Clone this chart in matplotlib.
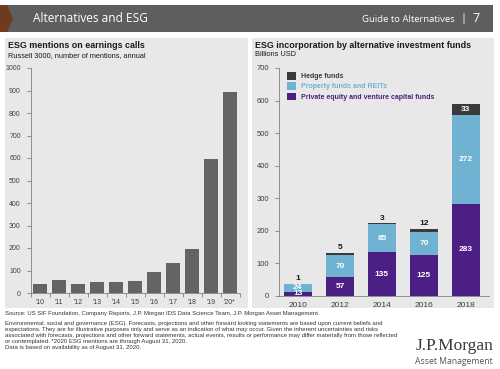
import matplotlib
matplotlib.use("Agg")
import matplotlib.pyplot as plt
from matplotlib.patches import Rectangle, Polygon
import numpy as np

plt.rcParams['font.family'] = ['Liberation Sans', 'DejaVu Sans']

# linker grafiek: ESG vermeldingen
jaren_links = ["'10", "'11", "'12", "'13", "'14", "'15", "'16", "'17", "'18", "'19", "'20*"]
vermeldingen = [41, 59, 40, 50, 47, 52, 95, 134, 196, 595, 895]

# rechter grafiek: ESG bij alternatieve fondsen
jaren_rechts = ["2010", "2012", "2014", "2016", "2018"]
private_equity = [13, 57, 135, 125, 283]
property_reits = [24, 70, 85, 70, 272]
hedge_funds = [1, 5, 3, 12, 33]

W, H = 500, 369
fig = plt.figure(figsize=(5, 3.69), dpi=100)
fig.patch.set_facecolor("white")


def px(x, y):
    return x / W, 1 - y / H


# kopbalk
fig.patches.append(Rectangle(px(0, 32), 493 / W, 27 / H, transform=fig.transFigure,
                             facecolor="#5e5e5e", edgecolor="none", zorder=-2))
fig.patches.append(Polygon([px(0, 5), px(7, 5), px(13, 18.5), px(7, 32), px(0, 32)],
                           closed=True, transform=fig.transFigure,
                           facecolor="#6e3b1f", edgecolor="none", zorder=-1))
fig.text(*px(33, 19), "Alternatives and ESG", color="white", fontsize=8.6,
         family="Open Sans", va="center", ha="left")
fig.text(*px(455, 20), "Guide to Alternatives", color="white", fontsize=6.8,
         family="Open Sans", va="center", ha="right")
fig.text(*px(463, 19), "|", color="white", fontsize=8, family="Open Sans", va="center", ha="center")
fig.text(*px(476, 19), "7", color="white", fontsize=9, family="Open Sans",
         va="center", ha="center")

# panelen
paneel_kleur = "#e8e8e8"
fig.patches.append(Rectangle(px(5, 308), 243 / W, 270 / H, transform=fig.transFigure,
                             facecolor=paneel_kleur, edgecolor="none", zorder=-2))
fig.patches.append(Rectangle(px(252, 308), 242 / W, 270 / H, transform=fig.transFigure,
                             facecolor=paneel_kleur, edgecolor="none", zorder=-2))

# linker grafiek
ax1 = fig.add_axes([30.5 / W, (H - 293) / H, 209 / W, 225 / H])
ax1.set_facecolor("none")
x1 = np.arange(len(jaren_links))
ax1.bar(x1, vermeldingen, width=0.72, color="#646464", zorder=2)
ax1.set_xlim(-0.5, 10.5)
ax1.set_ylim(0, 1000)
ax1.set_yticks(range(0, 1001, 100))
ax1.set_xticks(x1)
ax1.set_xticklabels(jaren_links)
ax1.set_xticks(np.arange(-0.5, 10.6, 1), minor=True)
for s in ["top", "right"]:
    ax1.spines[s].set_visible(False)
for s in ["left", "bottom"]:
    ax1.spines[s].set_color("#7f7f7f")
    ax1.spines[s].set_linewidth(0.6)
ax1.tick_params(axis="both", labelsize=5, colors="#7f7f7f", labelcolor="#404040", width=0.6)
ax1.tick_params(axis="x", which="major", length=0, pad=4)
ax1.tick_params(axis="x", which="minor", length=3, width=0.6, color="#7f7f7f")
ax1.tick_params(axis="y", length=3, pad=4)

fig.text(*px(8, 46), "ESG mentions on earnings calls", fontsize=6.4, weight="bold",
         color="#1a1a1a", va="center")
fig.text(*px(8, 56), "Russell 3000, number of mentions, annual", fontsize=5.3,
         color="#1a1a1a", va="center")

# rechter grafiek
ax2 = fig.add_axes([279 / W, (H - 296) / H, 210 / W, 228 / H])
ax2.set_facecolor("none")
x2 = np.arange(len(jaren_rechts))
kleur_pe = "#4b1f84"
kleur_prop = "#6fb2d2"
kleur_hedge = "#3a3a3a"
pe = np.array(private_equity)
prop = np.array(property_reits)
hedge = np.array(hedge_funds)
bw = 0.67
ax2.bar(x2, pe, width=bw, color=kleur_pe, zorder=2, label="Private equity and venture capital funds")
ax2.bar(x2, prop, width=bw, bottom=pe, color=kleur_prop, zorder=2, label="Property funds and REITs")
ax2.bar(x2, hedge, width=bw, bottom=pe + prop, color=kleur_hedge, zorder=2, label="Hedge funds")
ax2.set_xlim(-0.45, 4.55)
ax2.set_ylim(0, 700)
ax2.set_yticks(range(0, 701, 100))
ax2.set_xticks(x2)
ax2.set_xticklabels(jaren_rechts)
for s in ["top", "right"]:
    ax2.spines[s].set_visible(False)
for s in ["left", "bottom"]:
    ax2.spines[s].set_color("#7f7f7f")
    ax2.spines[s].set_linewidth(0.6)
ax2.tick_params(axis="both", labelsize=5.5, colors="#7f7f7f", labelcolor="#404040", width=0.6)
ax2.tick_params(axis="x", labelsize=6, length=0, pad=4)
ax2.tick_params(axis="y", length=3, pad=4)

for i in range(len(x2)):
    ax2.text(x2[i], pe[i] / 2, str(pe[i]), ha="center", va="center", color="white",
             fontsize=6, weight="bold", zorder=3)
    ax2.text(x2[i], pe[i] + prop[i] / 2, str(prop[i]), ha="center", va="center", color="white",
             fontsize=6, weight="bold", zorder=3)
    top = pe[i] + prop[i] + hedge[i]
    if hedge[i] > 20:
        ax2.text(x2[i], pe[i] + prop[i] + hedge[i] / 2, str(hedge[i]), ha="center", va="center",
                 color="white", fontsize=6, weight="bold", zorder=3)
    else:
        ax2.text(x2[i], top + 5, str(hedge[i]), ha="center", va="bottom", color="#1a1a1a",
                 fontsize=6, weight="bold", zorder=3)

handles, labels = ax2.get_legend_handles_labels()
leg = ax2.legend(handles[::-1], labels[::-1], loc="upper left", bbox_to_anchor=(0.02, 1.0),
                 frameon=False, fontsize=5, handlelength=1.3, handleheight=1.3,
                 handletextpad=0.6, labelspacing=0.3, borderaxespad=0.2)
for t, c in zip(leg.get_texts(), [kleur_hedge, kleur_prop, kleur_pe]):
    t.set_color(c)
    t.set_weight("bold")

fig.text(*px(255, 46), "ESG incorporation by alternative investment funds", fontsize=6.4,
         weight="bold", color="#1a1a1a", va="center")
fig.text(*px(255, 55), "Billions USD", fontsize=5.3, color="#1a1a1a", va="center")

# voetnoten
voet = ("Source: US SIF Foundation, Company Reports, J.P. Morgan IDS Data Science Team, "
        "J.P. Morgan Asset Management.")
fig.text(*px(5, 314), voet, fontsize=4.3, color="#333333", va="center")
disclaimer = [
    "Environmental, social and governance (ESG). Forecasts, projections and other forward looking statements are based upon current beliefs and",
    "expectations. They are for illustrative purposes only and serve as an indication of what may occur. Given the inherent uncertainties and risks",
    "associated with forecasts, projections and other forward statements, actual events, results or performance may differ materially from those reflected",
    "or contemplated. *2020 ESG mentions are through August 31, 2020.",
]
for n, regel in enumerate(disclaimer):
    fig.text(*px(5, 323 + n * 6), regel, fontsize=4.3, color="#333333", va="center")
fig.text(*px(5, 348), "Data is based on availability as of August 31, 2020.", fontsize=4.3,
         color="#333333", va="center")

# logo
fig.text(*px(494, 346), "J.P.Morgan", fontsize=12.5, family="Liberation Serif",
         color="#3a3a3a", ha="right", va="center")
fig.text(*px(493, 361), "Asset Management", fontsize=6.2, family="Open Sans",
         color="#555555", ha="right", va="center")

fig.savefig("out.png", dpi=100)
